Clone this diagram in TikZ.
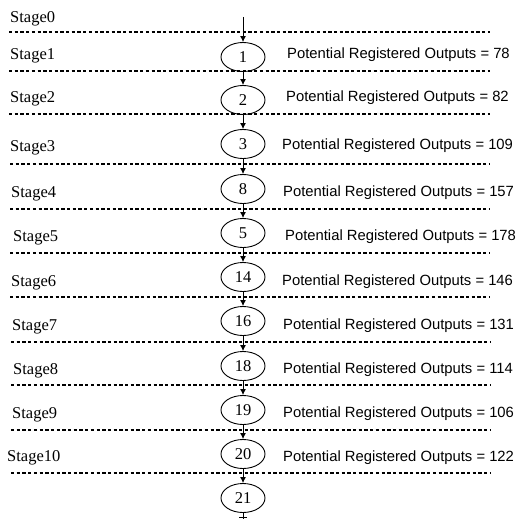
\documentclass[tikz,border=0pt]{standalone}
\usepackage{fontspec}
\setmainfont{Liberation Serif}
\newfontfamily\arialfont{Liberation Sans}
\usetikzlibrary{shapes.geometric,arrows.meta}
\begin{document}
\begin{tikzpicture}[x=1pt,y=-1pt,
  stagelbl/.style={anchor=west,inner sep=0pt,font=\fontsize{16.5}{18}\selectfont},
  outlbl/.style={anchor=west,inner sep=0pt,font=\arialfont\fontsize{14.8}{17}\selectfont},
  opnode/.style={ellipse,draw,line width=0.9pt,minimum width=44pt,minimum height=29pt,inner sep=0pt,font=\fontsize{16.5}{18}\selectfont},
  stageline/.style={line width=1.8pt,dash pattern=on 3.3pt off 2.4pt},
  flow/.style={line width=0.9pt,-{Latex[length=6pt,width=6pt]}}]
\useasboundingbox (0,0) rectangle (517,519);
% stage separators
\foreach \yy/\xs in {32/9,71/9,114/9,164/10,209/10,253/10,297/10,342/11,385/11,430/11,473/11}{
  \draw[stageline] (\xs,\yy) -- (490,\yy);
}
% stage labels
\node[stagelbl] (s0) at (10,19) {Stage0};
\node[stagelbl] (s1) at (10,56) {Stage1};
\node[stagelbl] (s2) at (10,99) {Stage2};
\node[stagelbl] (s3) at (10,148) {Stage3};
\node[stagelbl] (s4) at (11,194) {Stage4};
\node[stagelbl] (s5) at (13,238) {Stage5};
\node[stagelbl] (s6) at (11,283) {Stage6};
\node[stagelbl] (s7) at (12,327) {Stage7};
\node[stagelbl] (s8) at (13,371) {Stage8};
\node[stagelbl] (s9) at (12,415) {Stage9};
\node[stagelbl] (s10) at (7,458) {Stage10};
% operation nodes
\node[opnode] (n1) at (243,57) {1};
\node[opnode] (n2) at (243,100) {2};
\node[opnode] (n3) at (243,144) {3};
\node[opnode] (n8) at (243,189) {8};
\node[opnode] (n5) at (243,233) {5};
\node[opnode] (n14) at (243,277) {14};
\node[opnode] (n16) at (243,321) {16};
\node[opnode] (n18) at (243,366) {18};
\node[opnode] (n19) at (243,410) {19};
\node[opnode] (n20) at (243,454) {20};
\node[opnode] (n21) at (243,498) {21};
% outputs
\node[outlbl] (o1) at (287,55) {Potential Registered Outputs = 78};
\node[outlbl] (o2) at (286,98) {Potential Registered Outputs = 82};
\node[outlbl] (o3) at (282,146) {Potential Registered Outputs = 109};
\node[outlbl] (o4) at (283,193) {Potential Registered Outputs = 157};
\node[outlbl] (o5) at (285,237) {Potential Registered Outputs = 178};
\node[outlbl] (o6) at (282,282) {Potential Registered Outputs = 146};
\node[outlbl] (o7) at (283,326) {Potential Registered Outputs = 131};
\node[outlbl] (o8) at (283,370) {Potential Registered Outputs = 114};
\node[outlbl] (o9) at (283,414) {Potential Registered Outputs = 106};
\node[outlbl] (o10) at (283,458) {Potential Registered Outputs = 122};
% connectors
\coordinate (top) at (243,17);
\coordinate (bot) at (243,519);
\coordinate (tickl) at (239,517);
\coordinate (tickr) at (247,517);
\draw[flow] (top) -- (n1.north);
\draw[flow] (n1) -- (n2);
\draw[flow] (n2) -- (n3);
\draw[flow] (n3) -- (n8);
\draw[flow] (n8) -- (n5);
\draw[flow] (n5) -- (n14);
\draw[flow] (n14) -- (n16);
\draw[flow] (n16) -- (n18);
\draw[flow] (n18) -- (n19);
\draw[flow] (n19) -- (n20);
\draw[flow] (n20) -- (n21);
\draw[line width=0.9pt] (n21.south) -- (bot);
\draw[line width=0.9pt] (tickl) -- (tickr);
\end{tikzpicture}
\end{document}
